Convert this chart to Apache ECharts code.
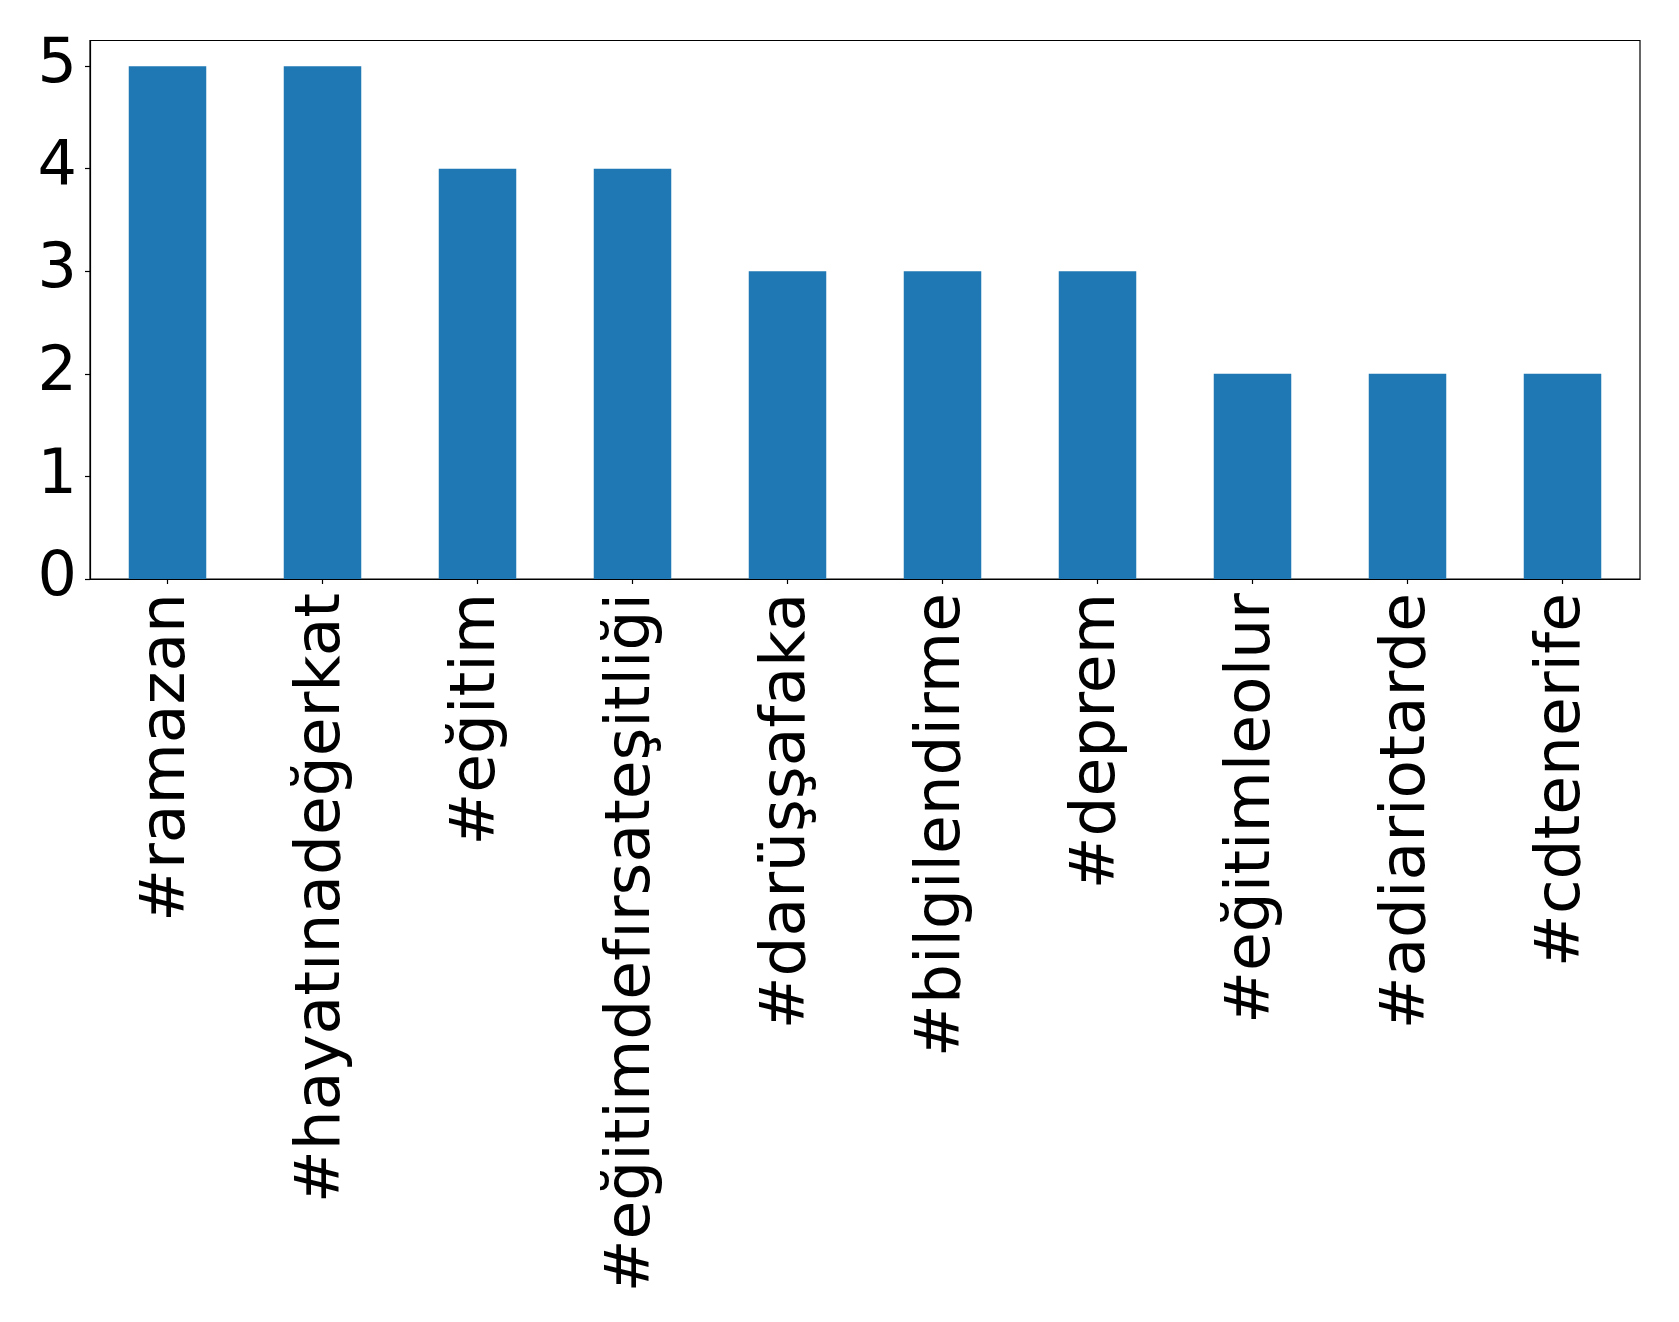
<!DOCTYPE html>
<html><head><meta charset="utf-8">
<script src="https://cdn.jsdelivr.net/npm/echarts@6/dist/echarts.min.js"></script>
<style>html,body{margin:0;padding:0;background:#fff}#c{width:1679px;height:1322px}</style>
</head><body><div id="c"></div>
<script>
const categories = ['#ramazan','#hayatınadeğerkat','#eğitim','#eğitimdefırsateşitliği','#darüşşafaka','#bilgilendirme','#deprem','#eğitimleolur','#adiariotarde','#cdtenerife'];
const counts = [5,5,4,4,3,3,3,2,2,2];
const yTicks = [0,1,2,3,4,5];

const chart = echarts.init(document.getElementById('c'));
const font = 'DejaVu Sans';
chart.setOption({
  animation: false,
  backgroundColor: '#fff',
  grid: {left: 90, right: 39, top: 40.5, bottom: 743, show: true, borderColor: '#000', borderWidth: 1.2, backgroundColor: 'transparent'},
  xAxis: {
    type: 'category', data: categories,
    axisLine: {show: true, lineStyle: {color: '#000', width: 1.2}},
    axisTick: {show: true, alignWithLabel: true, length: 5, lineStyle: {color: '#000', width: 1.2}},
    axisLabel: {rotate: 90, interval: 0, margin: 14, fontFamily: font, fontSize: 63, color: '#000', padding: [8, 0, 0, 0]},
    splitLine: {show: false}
  },
  yAxis: {
    type: 'value', min: 0, max: 5.25, interval: 1,
    axisLine: {show: true, lineStyle: {color: '#000', width: 1.2}},
    axisTick: {show: true, length: 5, customValues: yTicks, lineStyle: {color: '#000', width: 1.2}},
    axisLabel: {customValues: yTicks, margin: 13, fontFamily: font, fontSize: 62, color: '#000'},
    splitLine: {show: false}
  },
  series: [{
    type: 'bar', data: counts, barWidth: '50%',
    itemStyle: {color: '#1f77b4'}
  }]
});
</script></body></html>
